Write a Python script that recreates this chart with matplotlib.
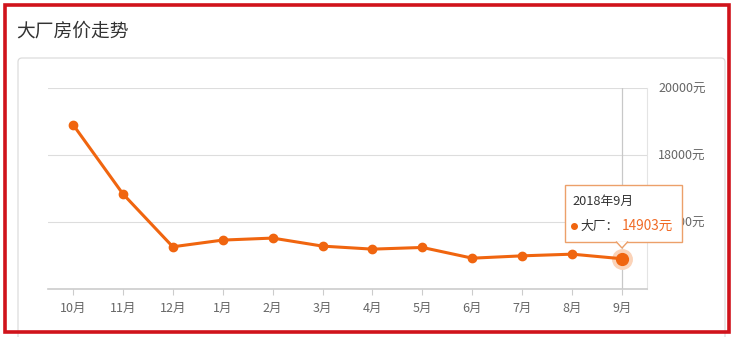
import matplotlib.pyplot as plt
from matplotlib.patches import Rectangle, FancyBboxPatch, Polygon

plt.rcParams['font.family'] = ['Noto Sans CJK SC', 'DejaVu Sans']

months = ["10月", "11月", "12月", "1月", "2月", "3月", "4月", "5月", "6月", "7月", "8月", "9月"]
prices = [18910, 16840, 15260, 15460, 15520, 15280, 15190, 15240, 14920, 14990, 15040, 14903]
y_ticks = [14000, 16000, 18000, 20000]
y_labels = ["", "16000元", "18000元", "20000元"]
title = "大厂房价走势"
tip_title = "2018年9月"
tip_name = "大厂"

W, H = 736, 337
LINE = "#f0650f"

fig = plt.figure(figsize=(W / 100, H / 100), dpi=100)

# background decorations (pixel coords, origin top-left)
bg = fig.add_axes([0, 0, 1, 1])
bg.set_xlim(0, W)
bg.set_ylim(H, 0)
bg.axis("off")
bg.add_patch(FancyBboxPatch((18, 58), 707, 300, boxstyle="round,pad=0,rounding_size=4",
                            fc="white", ec="#dcdcdc", lw=0.9))
bg.add_patch(Rectangle((5, 5), 724, 327, fill=False, ec="#d0131b", lw=2.6))
bg.text(16, 31, title, fontsize=13.5, color="#333333", va="center", ha="left")

# main chart
left, top = 48, 88
right, bottom = 647, 289
ax = fig.add_axes([left / W, 1 - bottom / H, (right - left) / W, (bottom - top) / H])
ax.set_xlim(-0.5, len(months) - 0.5)
ax.set_ylim(14000, 20000)
x = list(range(len(months)))

ax.set_yticks(y_ticks)
ax.set_yticklabels(y_labels)
ax.yaxis.tick_right()
ax.tick_params(axis="y", length=0, pad=8, labelsize=9, labelcolor="#666666")
ax.set_xticks(x)
ax.set_xticklabels(months)
ax.tick_params(axis="x", length=4, color="#cccccc", pad=5, labelsize=9, labelcolor="#666666")
for lab in ax.get_yticklabels():
    lab.set_horizontalalignment("left")

ax.grid(axis="y", color="#dddddd", lw=0.8)
ax.set_axisbelow(True)
for side in ["left", "top"]:
    ax.spines[side].set_visible(False)
ax.spines["right"].set_color("#e4e4e4")
ax.spines["right"].set_linewidth(0.8)
ax.spines["bottom"].set_color("#cccccc")
ax.spines["bottom"].set_linewidth(1.2)

# hover cursor line
ax.axvline(x[-1], color="#c8c8c8", lw=0.9, zorder=1)

ax.plot(x, prices, color=LINE, lw=2.2, marker="o", ms=6, mec=LINE, mfc=LINE, zorder=3)
ax.plot(x[-1], prices[-1], "o", ms=14, color="#fbd3b8", zorder=2.9)
ax.plot(x[-1], prices[-1], "o", ms=8.5, color=LINE, zorder=4)

# tooltip, drawn on top so it hides the 16000 label like the reference
tip = fig.add_axes([0, 0, 1, 1], zorder=10)
tip.set_xlim(0, W)
tip.set_ylim(H, 0)
tip.axis("off")
tip.patch.set_alpha(0)
bx0, by0, bx1, by1 = 565, 185, 682, 242
tip.add_patch(Rectangle((bx0, by0), bx1 - bx0, by1 - by0, fc="white", ec="#eca06a", lw=1.0))
tip.add_patch(Polygon([(616, by1 - 0.5), (622, by1 + 6), (628, by1 - 0.5)], closed=False,
                      fc="white", ec="#eca06a", lw=1.0))
tip.text(572, 201, tip_title, fontsize=9.2, color="#333333", va="center", ha="left")
tip.plot(574, 226, "o", ms=4, color=LINE)
tip.text(580, 226, tip_name + "：", fontsize=9.2, color="#333333", va="center", ha="left")
tip.text(622, 226, "%d元" % prices[-1], fontsize=9.8, color="#f06a25", va="center", ha="left")

fig.savefig("out.png", dpi=100)
